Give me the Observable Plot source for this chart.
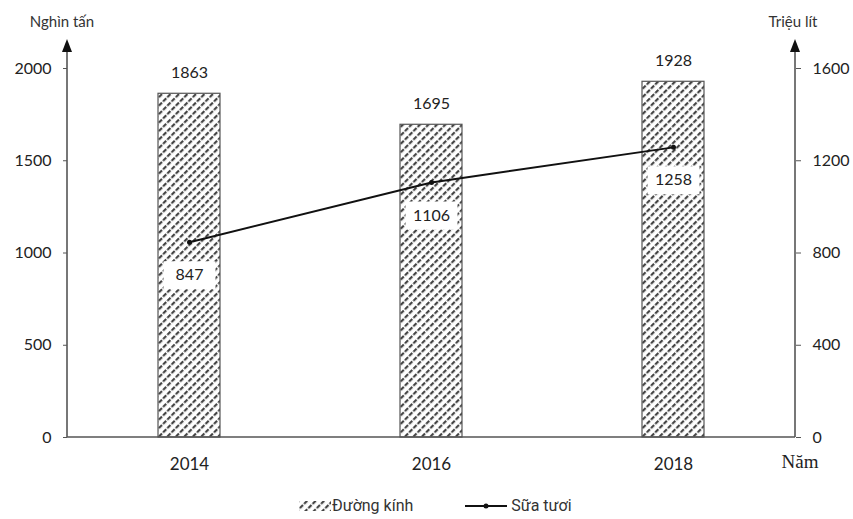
<!DOCTYPE html>
<html>
<head>
<meta charset="utf-8">
<script src="https://cdn.jsdelivr.net/npm/d3@7"></script>
<script src="https://cdn.jsdelivr.net/npm/@observablehq/plot@0.6"></script>
<style>
  body { margin: 0; background: #fff; }
  #chart { position: relative; width: 853px; height: 519px; overflow: hidden; }
  #legend { position: absolute; left: 298px; top: 496px; display: flex; align-items: center;
            font-family: Roboto, "Liberation Sans", sans-serif; font-size: 16px; color: #333; }
  #legend .item { display: flex; align-items: center; }
  #legend svg { display: block; }
</style>
</head>
<body>
<div id="chart"><div id="legend"></div></div>
<script>
const years = ["2014", "2016", "2018"];
const duongKinh = [1863, 1695, 1928];   // Nghìn tấn (left axis)
const suaTuoi = [847, 1106, 1258];      // Triệu lít (right axis)
const leftTicks = [0, 500, 1000, 1500, 2000];
const rightTicks = [0, 400, 800, 1200, 1600];
const seriesNames = ["Đường kính", "Sữa tươi"];
const leftLabel = "Nghìn tấn";
const rightLabel = "Triệu lít";
const xLabel = "Năm";

const ratio = 2000 / 1600;
const bars = years.map((y, i) => ({year: y, value: duongKinh[i]}));
const line = years.map((y, i) => ({year: y, value: suaTuoi[i], scaled: suaTuoi[i] * ratio}));

const W = 853, H = 490, mt = 68, mb = 53, ml = 67, mr = 58;
const font = "Lato, 'Open Sans', sans-serif";
const boxSymbol = {draw(ctx) { ctx.rect(-26, -14, 52, 28); }};

const plot = Plot.plot({
  width: W, height: H,
  marginTop: mt, marginBottom: mb, marginLeft: ml, marginRight: mr,
  style: {fontFamily: font, fontSize: "16px", color: "#222", background: "transparent", overflow: "visible"},
  x: {domain: years, paddingInner: 0.745, paddingOuter: 0.3725},
  y: {domain: [0, 2000]},
  marks: [
    Plot.barY(bars, {x: "year", y: "value", fill: "url(#hatch)", stroke: "#555", strokeWidth: 1.2}),
    Plot.text(bars, {x: "year", y: "value", text: d => String(d.value), dy: -21, fill: "#222", fontSize: 16}),
    Plot.line(line, {x: "year", y: "scaled", stroke: "#111", strokeWidth: 2}),
    Plot.dot(line, {x: "year", y: "scaled", r: 2.5, fill: "#111"}),
    Plot.dot(line, {x: "year", y: "scaled", symbol: boxSymbol, fill: "white", stroke: "none", dy: 33}),
    Plot.text(line, {x: "year", y: "scaled", text: d => String(d.value), dy: 33, fill: "#222", fontSize: 16}),
    Plot.axisY({anchor: "left", ticks: leftTicks, tickFormat: d => String(d), tickSize: 4, tickPadding: 12, label: null, stroke: "#555", fontSize: 16}),
    Plot.axisY({anchor: "right", ticks: rightTicks.map(v => v * ratio), tickFormat: d => String(Math.round(d / ratio)), tickSize: 5, tickPadding: 12, label: null, stroke: "#555", fontSize: 16}),
    Plot.axisX({anchor: "bottom", tickSize: 0, tickPadding: 20, label: null, fontSize: 17})
  ]
});

const svg = d3.select(plot);
const defs = svg.insert("defs", ":first-child");
const pat = defs.append("pattern").attr("id", "hatch").attr("patternUnits", "userSpaceOnUse")
  .attr("width", 6).attr("height", 6).attr("patternTransform", "rotate(45)");
pat.append("rect").attr("width", 6).attr("height", 6).attr("fill", "#fff");
pat.append("rect").attr("x", 0).attr("y", 0).attr("width", 2.2).attr("height", 4.5).attr("fill", "#444");

// axis lines with arrowheads
const g = svg.append("g").attr("stroke", "#555").attr("stroke-width", 1.6);
const bottom = H - mb, right = W - mr;
g.append("line").attr("x1", ml).attr("x2", right).attr("y1", bottom).attr("y2", bottom);
g.append("line").attr("x1", ml).attr("x2", ml).attr("y1", bottom).attr("y2", 46);
g.append("line").attr("x1", right).attr("x2", right).attr("y1", bottom).attr("y2", 46);
const a = svg.append("g").attr("fill", "#111");
a.append("path").attr("d", `M${ml - 5},52 L${ml},39 L${ml + 5},52 Z`);
a.append("path").attr("d", `M${right - 5},52 L${right},39 L${right + 5},52 Z`);
const t = svg.append("g").attr("fill", "#333").style("font-family", font).style("font-size", "15px");
t.append("text").attr("x", 62).attr("y", 27).attr("text-anchor", "middle").text(leftLabel);
t.append("text").attr("x", 793).attr("y", 27).attr("text-anchor", "middle").text(rightLabel);
svg.append("text").attr("x", 800).attr("y", 468).attr("text-anchor", "middle")
  .style("font-family", "'Liberation Serif', serif").style("font-size", "19px").attr("fill", "#222").text(xLabel);

document.getElementById("chart").prepend(plot);

// legend
const leg = d3.select("#legend");
const i1 = leg.append("div").attr("class", "item");
const s1 = i1.append("svg").attr("width", 34).attr("height", 12);
const d1 = s1.append("defs").append("pattern").attr("id", "hatchL").attr("patternUnits", "userSpaceOnUse")
  .attr("width", 6).attr("height", 6).attr("patternTransform", "rotate(45)");
d1.append("rect").attr("width", 6).attr("height", 6).attr("fill", "#fff");
d1.append("rect").attr("width", 2.2).attr("height", 4.5).attr("fill", "#444");
s1.append("rect").attr("x", 1).attr("y", 1).attr("width", 32).attr("height", 10).attr("fill", "url(#hatchL)");
i1.append("span").text(seriesNames[0]);
const i2 = leg.append("div").attr("class", "item").style("margin-left", "52px");
const s2 = i2.append("svg").attr("width", 44).attr("height", 12);
s2.append("line").attr("x1", 0).attr("x2", 42).attr("y1", 6).attr("y2", 6).attr("stroke", "#111").attr("stroke-width", 2);
s2.append("circle").attr("cx", 21).attr("cy", 6).attr("r", 2.5).attr("fill", "#111");
i2.append("span").style("margin-left", "2px").text(seriesNames[1]);
</script>
</body>
</html>
